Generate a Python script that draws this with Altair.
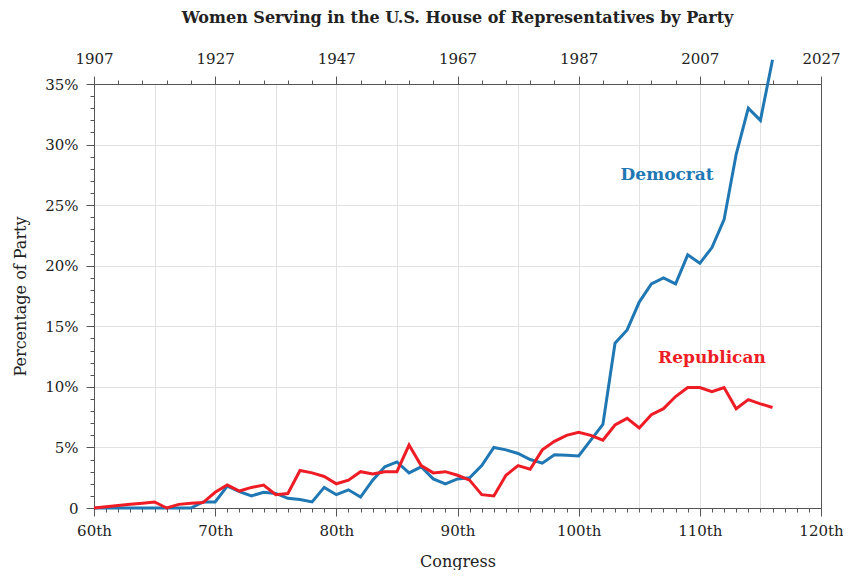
import altair as alt
import pandas as pd

congress = list(range(60, 117))
democrat = [0, 0, 0, 0, 0, 0, 0, 0, 0, 0.5, 0.5, 1.8, 1.35, 1.0, 1.3, 1.2, 0.8, 0.7, 0.5, 1.7,
            1.1, 1.5, 0.9, 2.3, 3.4, 3.8, 2.9, 3.4, 2.4, 2.0, 2.4, 2.5, 3.5, 5.0, 4.8, 4.5,
            4.0, 3.7, 4.4, 4.35, 4.3, 5.6, 6.9, 13.6, 14.7, 17.0, 18.5, 19.0, 18.5, 20.9,
            20.2, 21.5, 23.8, 29.2, 33.0, 32.0, 37.0]
republican = [0, 0.1, 0.2, 0.3, 0.4, 0.5, 0.0, 0.3, 0.4, 0.45, 1.3, 1.9, 1.4, 1.7, 1.9, 1.1,
              1.2, 3.1, 2.9, 2.6, 2.0, 2.3, 3.0, 2.8, 3.0, 3.0, 5.2, 3.5, 2.9, 3.0, 2.7, 2.3,
              1.1, 1.0, 2.7, 3.5, 3.2, 4.8, 5.5, 6.0, 6.25, 6.0, 5.6, 6.85, 7.4, 6.6, 7.7,
              8.2, 9.2, 9.95, 9.95, 9.6, 9.95, 8.2, 8.95, 8.6, 8.3]

parties = ["Democrat", "Republican"]
colors = ["#1f77b4", "#ee1c25"]
label_congress = [107.3, 111.0]
label_pct = [27.5, 12.4]

x_major = list(range(60, 121, 10))
x_minor = list(range(60, 121, 1))
x_top_minor = list(range(60, 121, 2))
x_grid = list(range(60, 121, 5))
y_major = list(range(0, 36, 5))
y_minor = list(range(0, 36, 1))

df = pd.DataFrame({
    "congress": congress * 2,
    "pct": democrat + republican,
    "party": ["Democrat"] * len(congress) + ["Republican"] * len(congress),
})
labels_df = pd.DataFrame({"congress": label_congress, "pct": label_pct, "party": parties})

FONT = "DejaVu Serif"
AX = dict(domainColor="#555", tickColor="#555", labelColor="#222", labelFont=FONT,
          labelFontSize=15, titleFont=FONT, titleFontSize=16, titleColor="#222",
          titleFontWeight="normal", domainWidth=1, tickWidth=1, labelFlush=False)

xs = alt.Scale(domain=[60, 120], nice=False, zero=False)
ys = alt.Scale(domain=[0, 35], nice=False, zero=False)
cs = alt.Scale(domain=parties, range=colors)


def X(axis, title=""):
    return alt.X("congress:Q", scale=xs, axis=axis, title=title)


def Y(axis, title=""):
    return alt.Y("pct:Q", scale=ys, axis=axis, title=title)


base = alt.Chart(df)

grid = base.mark_point(opacity=0).encode(
    x=X(alt.Axis(orient="bottom", values=x_grid, grid=True, gridColor="#e2e2e2", labels=False,
                 ticks=False, domain=False)),
    y=Y(alt.Axis(orient="left", values=y_major, grid=True, gridColor="#e2e2e2", labels=False,
                 ticks=False, domain=False)),
)

major = base.mark_point(opacity=0).encode(
    x=X(alt.Axis(orient="bottom", values=x_major, labelExpr="datum.value + 'th'", tickSize=8,
                 grid=False, labelPadding=7, titlePadding=15, **AX), title="Congress"),
    y=Y(alt.Axis(orient="left", values=y_major,
                 labelExpr="datum.value == 0 ? '0' : datum.value + '%'", tickSize=8,
                 grid=False, labelPadding=8, titlePadding=16, **AX),
        title="Percentage of Party"),
)

minor = base.mark_point(opacity=0).encode(
    x=X(alt.Axis(orient="bottom", values=x_minor, tickSize=4, labels=False, domain=False,
                 grid=False, **AX)),
    y=Y(alt.Axis(orient="left", values=y_minor, tickSize=4, labels=False, domain=False,
                 grid=False, **AX)),
)

top = base.mark_point(opacity=0).encode(
    x=X(alt.Axis(orient="top", values=x_major, labelExpr="1907 + 2 * (datum.value - 60)",
                 tickSize=8, grid=False, labelPadding=10, **AX)),
    y=Y(alt.Axis(orient="right", values=y_major, ticks=False, labels=False, grid=False, **AX)),
)
top_minor = base.mark_point(opacity=0).encode(
    x=X(alt.Axis(orient="top", values=x_top_minor, tickSize=4, labels=False, domain=False,
                 grid=False, **AX)),
    y=Y(None),
)

lines = base.mark_line(strokeWidth=3).encode(
    x=X(None),
    y=Y(None),
    color=alt.Color("party:N", scale=cs, legend=None),
    detail="party:N",
)

texts = alt.Chart(labels_df).mark_text(font=FONT, fontWeight="bold", fontSize=17).encode(
    x=X(None),
    y=Y(None),
    text="party:N",
    color=alt.Color("party:N", scale=cs, legend=None),
)

chart = alt.layer(grid, major, minor, top, top_minor, lines, texts).resolve_axis(
    x="independent", y="independent"
).properties(
    width=727,
    height=424,
    padding={"left": 86, "top": 76, "right": 22, "bottom": 62},
    autosize=alt.AutoSizeParams(type="none"),
    title=alt.TitleParams("Women Serving in the U.S. House of Representatives by Party",
                          font=FONT, fontSize=16, fontWeight="bold", color="#222",
                          anchor="middle", offset=25),
).configure_view(strokeOpacity=0).configure_axis(
    titleFont=FONT, labelFont=FONT, titleFontWeight="normal", titleFontSize=16,
    titleColor="#222", labelFlush=False
)

chart.save("out.html", embed_options={"renderer": "svg", "actions": False})
